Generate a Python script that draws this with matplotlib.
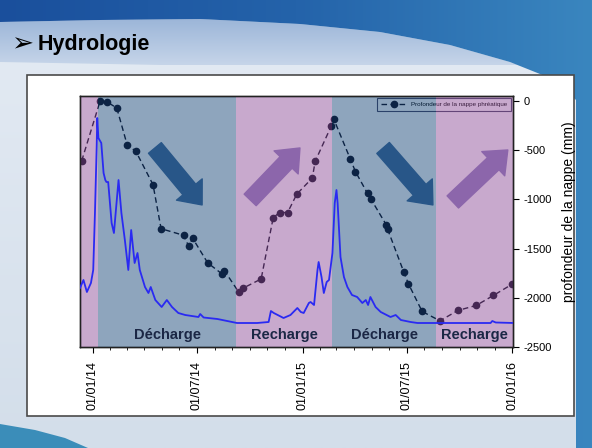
import matplotlib

matplotlib.use("Agg")
import matplotlib.pyplot as plt
import matplotlib.dates as mdates
import matplotlib.transforms as mtransforms
import numpy as np
import pandas as pd
from matplotlib.colors import LinearSegmentedColormap
from matplotlib.patches import Polygon, Rectangle

plt.rcParams["font.family"] = ["Liberation Sans", "DejaVu Sans"]
plt.rcParams["axes.unicode_minus"] = False

# Water-table depth (mm)
depth_dates = [
    "2013-12-13", "2014-01-14", "2014-01-26", "2014-02-12", "2014-03-02",
    "2014-03-17", "2014-04-16", "2014-04-30", "2014-06-08", "2014-06-17",
    "2014-06-24", "2014-07-20", "2014-08-14", "2014-08-18", "2014-09-12",
    "2014-09-20", "2014-10-21", "2014-11-11", "2014-11-22", "2014-12-06",
    "2014-12-22", "2015-01-18", "2015-01-23", "2015-02-20", "2015-02-24",
    "2015-03-25", "2015-04-03", "2015-04-24", "2015-04-30", "2015-05-27",
    "2015-05-29", "2015-06-26", "2015-07-04", "2015-07-28", "2015-08-28",
    "2015-09-28", "2015-10-30", "2015-11-29", "2016-01-01",
]
depth_mm = [
    -608, 0, -10, -72, -446, -511, -851, -1298, -1365, -1475,
    -1396, -1645, -1758, -1723, -1942, -1901, -1809, -1186, -1134, -1134,
    -947, -783, -613, -255, -180, -589, -718, -940, -998, -1263,
    -1304, -1737, -1856, -2139, -2234, -2129, -2078, -1976, -1860,
]

# River flow (no scale shown on the chart), days after 2014-01-01
flow_day = [
    -22, -16, -10, -3, 1, 4, 7, 8, 10, 15, 19, 22, 24, 27, 33, 37, 45, 50, 56, 62,
    67, 73, 78, 82, 91, 97, 101, 109, 120, 129, 138, 149, 161, 184, 187, 193, 217,
    251, 286, 306, 310, 315, 332, 344, 356, 362, 367, 376, 379, 385, 391, 393, 398,
    402, 407, 411, 417, 421, 424, 426, 431, 437, 443, 451, 460, 469, 475, 479, 483,
    492, 501, 518, 527, 536, 553, 565, 599, 652, 692, 695, 701, 733,
]
flow = [
    5.9, 6.7, 5.5, 6.4, 7.7, 13.4, 20.0, 22.9, 20.9, 20.4, 17.4, 16.7, 16.5, 16.5,
    12.4, 11.4, 16.7, 13.4, 10.7, 7.7, 11.7, 8.4, 9.4, 7.7, 6.0, 5.4, 6.0, 4.7, 4.0,
    4.7, 4.0, 3.4, 3.2, 3.0, 3.3, 2.95, 2.8, 2.4, 2.4, 2.5, 3.6, 3.4, 2.9, 3.2, 3.9,
    3.5, 3.4, 4.4, 4.5, 4.2, 7.7, 8.5, 7.0, 5.4, 6.5, 6.7, 9.4, 14.4, 15.7, 14.4,
    9.0, 7.0, 6.0, 5.2, 5.0, 4.4, 4.7, 4.2, 5.0, 4.0, 3.5, 3.0, 3.2, 2.7, 2.5, 2.4,
    2.4, 2.4, 2.4, 2.6, 2.45, 2.4,
]

# Recharge / discharge periods
period_start = ["2013-12-01", "2014-01-11", "2014-09-08", "2015-02-22", "2015-08-21"]
period_end = ["2014-01-11", "2014-09-08", "2015-02-22", "2015-08-21", "2016-01-31"]
period_kind = ["Recharge", "Décharge", "Recharge", "Décharge", "Recharge"]
period_labelled = [False, True, True, True, True]

x_min = pd.Timestamp("2013-12-10")
x_max = pd.Timestamp("2016-01-02")

overlay_color = {"Recharge": "#854290", "Décharge": "#06396e"}
arrow_color = {"Recharge": "#8c66ab", "Décharge": "#285688"}

fig = plt.figure(figsize=(5.92, 4.48), dpi=100)

# ---- slide background ----
bg = fig.add_axes([0, 0, 1, 1], zorder=-10)
bg.set_xlim(0, 592)
bg.set_ylim(448, 0)
bg.axis("off")

vgrad = np.linspace(0, 1, 256).reshape(-1, 1)
hgrad = np.linspace(0, 1, 256).reshape(1, -1)

light = LinearSegmentedColormap.from_list("light", ["#e4ebf4", "#d3deea"])
bg.imshow(vgrad, extent=(0, 592, 448, 0), cmap=light, aspect="auto")

band_poly = Polygon(
    [(0, 22), (100, 20), (200, 19), (300, 24), (380, 32), (450, 45), (510, 62),
     (540, 72), (0, 62)],
    closed=True, facecolor="none", edgecolor="none", transform=bg.transData,
)
bg.add_patch(band_poly)
band = LinearSegmentedColormap.from_list("band", ["#9bb5d8", "#c6d5e9"])
im = bg.imshow(vgrad, extent=(0, 592, 65, 18), cmap=band, aspect="auto")
im.set_clip_path(band_poly)

dark_poly = Polygon(
    [(0, 0), (592, 0), (592, 448), (576, 448), (576, 100), (555, 80), (510, 62),
     (450, 45), (380, 32), (300, 24), (200, 19), (100, 20), (0, 22)],
    closed=True, facecolor="none", edgecolor="none", transform=bg.transData,
)
bg.add_patch(dark_poly)
dark = LinearSegmentedColormap.from_list("dark", ["#1a4f9c", "#2463aa", "#3a86bf"])
im = bg.imshow(hgrad, extent=(0, 592, 448, 0), cmap=dark, aspect="auto")
im.set_clip_path(dark_poly)

bg.add_patch(Polygon([(0, 424), (35, 430), (65, 438), (88, 448), (0, 448)],
                     closed=True, facecolor="#3b8db9", edgecolor="none"))
bg.add_patch(Rectangle((27, 75), 547, 341, facecolor="white",
                       edgecolor="#4a4a4a", linewidth=1.2))

fig.text(11 / 592, 1 - 51 / 448, "\u27a2", fontsize=19, color="black",
         family=["DejaVu Sans"], va="baseline")
fig.text(38 / 592, 1 - 50 / 448, "Hydrologie", fontsize=15.5, weight="bold",
         color="black", va="baseline")

# ---- chart ----
ax = fig.add_axes([80 / 592, 101 / 448, 433 / 592, 251 / 448])
ax2 = ax.twinx()
ax.set_zorder(ax2.get_zorder() + 1)
ax.patch.set_visible(False)
ax2.patch.set_visible(True)
ax2.patch.set_facecolor("white")

dates = pd.to_datetime(depth_dates)
ax2.plot(dates, depth_mm, color="#111122", linestyle=(0, (4, 2.5)),
         linewidth=1.0, marker="o", markersize=4.5, zorder=2,
         label="Profondeur de la nappe phréatique")

for start, end, kind in zip(period_start, period_end, period_kind):
    ax2.axvspan(pd.Timestamp(start), pd.Timestamp(end), color=overlay_color[kind],
                alpha=0.45, linewidth=0, zorder=3)

leg = ax2.legend(loc="upper right", fontsize=4.5, fancybox=False,
                 edgecolor="#1a1a40", facecolor="none", handlelength=4,
                 borderaxespad=0.3, borderpad=0.6)
leg.get_frame().set_linewidth(0.8)
leg.set_zorder(2.5)

flow_dates = pd.Timestamp("2014-01-01") + pd.to_timedelta(flow_day, unit="D")
ax.plot(flow_dates, flow, color="#2a2af2", linewidth=1.3, zorder=4)

blend = mtransforms.blended_transform_factory(ax.transData, ax.transAxes)
for start, end, kind, show in zip(period_start, period_end, period_kind, period_labelled):
    if not show:
        continue
    s = max(pd.Timestamp(start), x_min)
    e = min(pd.Timestamp(end), x_max)
    mid = s + (e - s) / 2
    ax.text(mid, 0.048, kind, transform=blend, ha="center", va="center",
            fontsize=10.5, weight="bold", color="#1b2745", zorder=6)

# big trend arrows
arrows = [
    ((0.173, 0.793), (0.282, 0.566), "Décharge"),
    ((0.393, 0.586), (0.508, 0.793), "Recharge"),
    ((0.700, 0.793), (0.815, 0.566), "Décharge"),
    ((0.861, 0.578), (0.988, 0.785), "Recharge"),
]
for tail, tip, kind in arrows:
    ax.annotate("", xy=tip, xytext=tail, xycoords="axes fraction",
                arrowprops=dict(arrowstyle="simple,head_length=0.9,head_width=1.5,tail_width=0.75",
                                color=arrow_color[kind], shrinkA=0, shrinkB=0,
                                mutation_scale=16), zorder=5)

ax.set_xlim(x_min, x_max)
ax.set_ylim(0, 25.1)
ax.tick_params(axis="y", left=False, labelleft=False)
ax.xaxis.set_major_locator(mdates.MonthLocator(bymonth=[1, 7]))
ax.xaxis.set_major_formatter(mdates.DateFormatter("%d/%m/%y"))
ax.xaxis.set_minor_locator(mdates.MonthLocator())
ax.tick_params(axis="x", which="major", labelsize=9, length=4, pad=6,
               labelrotation=90, direction="out")
ax.tick_params(axis="x", which="minor", length=2.5, direction="out")

ax2.set_ylim(-2500, 50)
ax2.set_yticks(np.arange(-2500, 1, 500))
ax2.tick_params(axis="y", labelsize=8, length=4, direction="out")
ax2.text(1.129, 0.54, "profondeur de la nappe (mm)", transform=ax2.transAxes,
         rotation=90, ha="center", va="center", fontsize=10)

for a in (ax, ax2):
    for sp in a.spines.values():
        sp.set_color("#222222")
        sp.set_linewidth(1.0)

fig.savefig("out.png", dpi=100)
